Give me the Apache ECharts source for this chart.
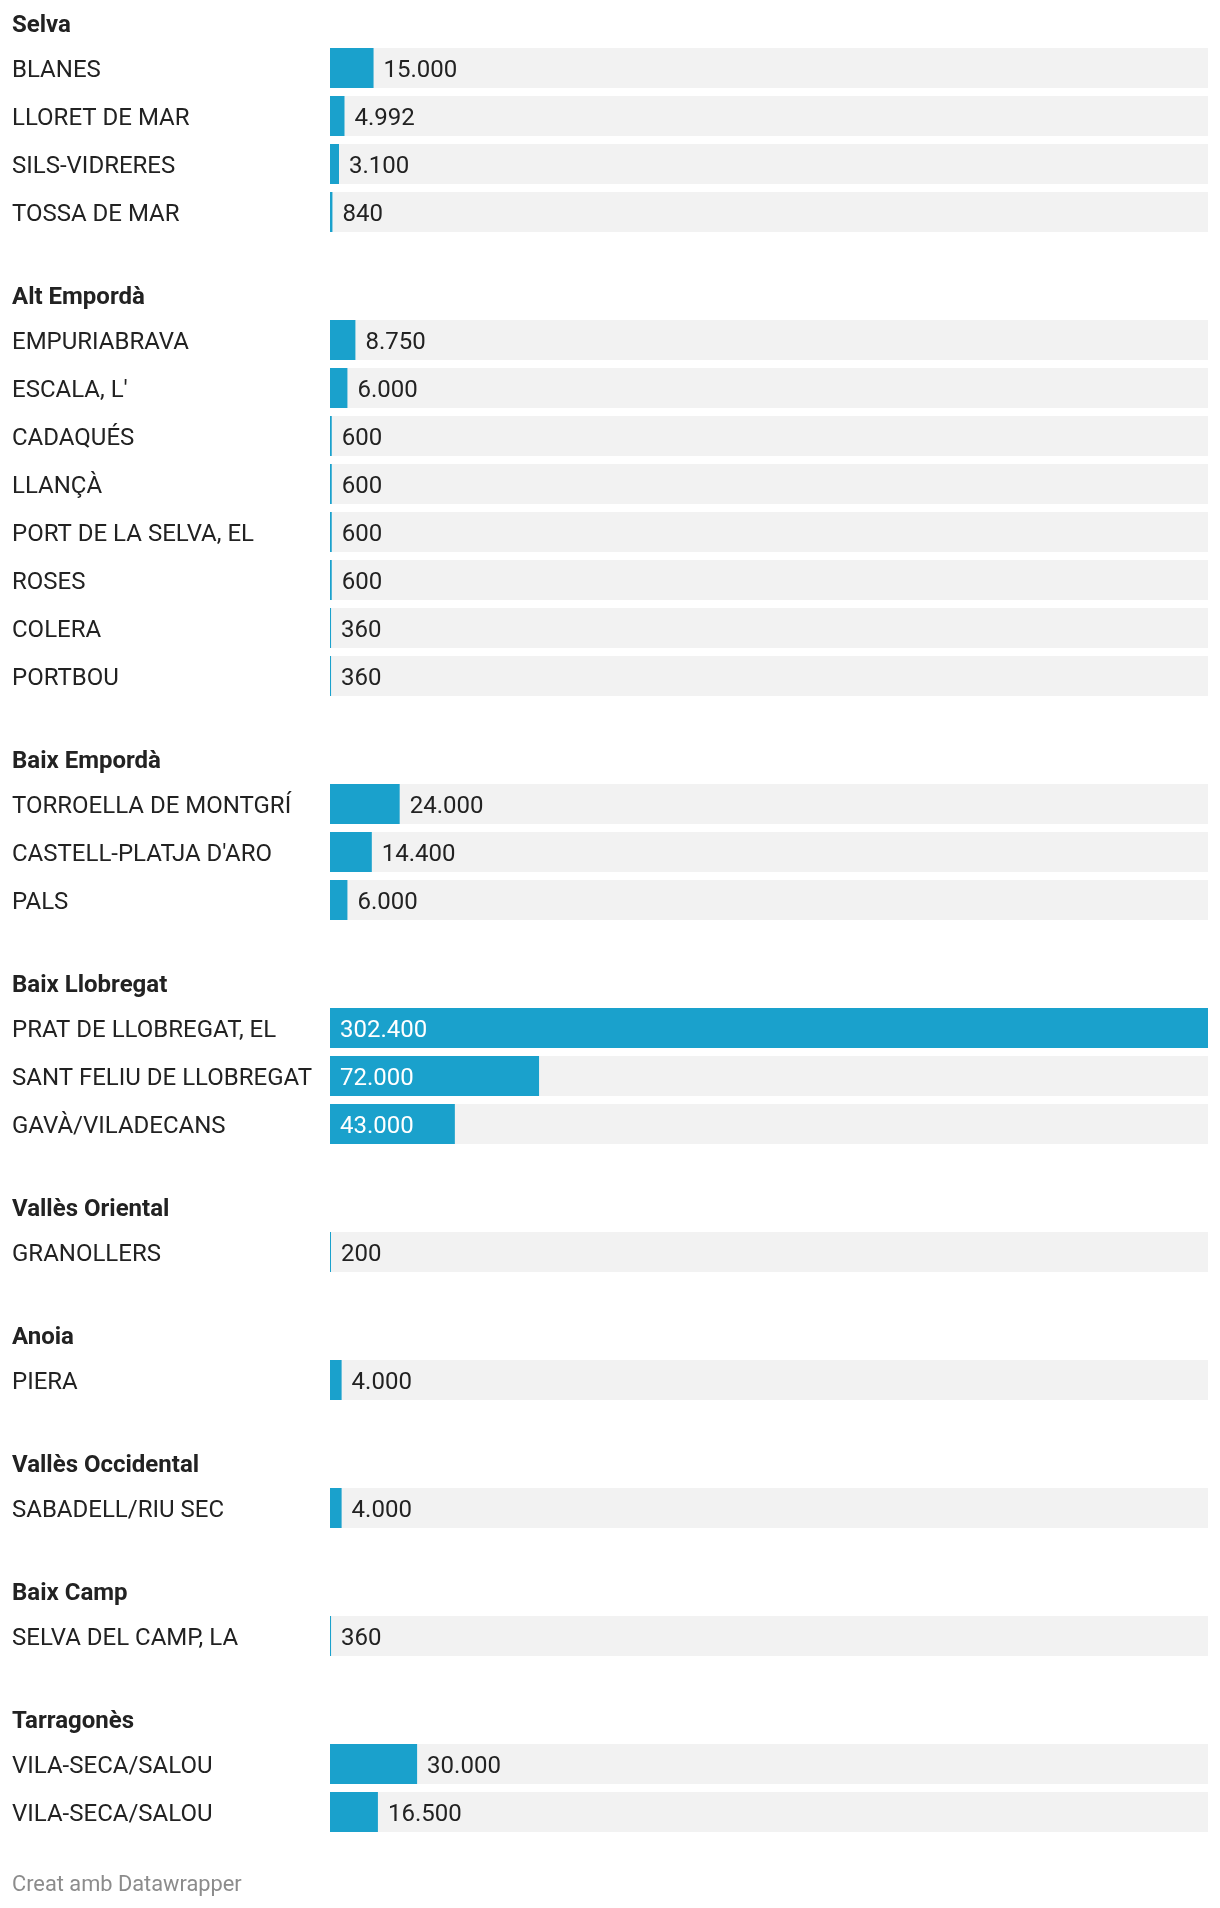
<!DOCTYPE html>
<html>
<head>
<meta charset="utf-8">
<script src="https://cdn.jsdelivr.net/npm/echarts@6/dist/echarts.min.js"></script>
<style>
html,body{margin:0;padding:0;background:#fff;}
#chart{width:1220px;height:1908px;}
</style>
</head>
<body>
<div id="chart"></div>
<script>
const groupNames = ['Selva', 'Alt Empordà', 'Baix Empordà', 'Baix Llobregat', 'Vallès Oriental', 'Anoia', 'Vallès Occidental', 'Baix Camp', 'Tarragonès'];
const groupCounts = [4, 8, 3, 3, 1, 1, 1, 1, 2];
const municipalities = [
  'BLANES', 'LLORET DE MAR', 'SILS-VIDRERES', 'TOSSA DE MAR',
  'EMPURIABRAVA', "ESCALA, L'", 'CADAQUÉS', 'LLANÇÀ', 'PORT DE LA SELVA, EL', 'ROSES', 'COLERA', 'PORTBOU',
  'TORROELLA DE MONTGRÍ', "CASTELL-PLATJA D'ARO", 'PALS',
  'PRAT DE LLOBREGAT, EL', 'SANT FELIU DE LLOBREGAT', 'GAVÀ/VILADECANS',
  'GRANOLLERS',
  'PIERA',
  'SABADELL/RIU SEC',
  'SELVA DEL CAMP, LA',
  'VILA-SECA/SALOU', 'VILA-SECA/SALOU'
];
const values = [
  15000, 4992, 3100, 840,
  8750, 6000, 600, 600, 600, 600, 360, 360,
  24000, 14400, 6000,
  302400, 72000, 43000,
  200,
  4000,
  4000,
  360,
  30000, 16500
];
const footerText = 'Creat amb Datawrapper';

const W = 1220;
const PLOT_LEFT = 330, PLOT_RIGHT = 12;
const ROW = 48, BAR = 40, GROUP_EXTRA = 80, HEAD_OFFSET = 44;
const FONT = 'Roboto, "Noto Sans", sans-serif';
const LABEL_SIZE = 24;
const TEXT_SHIFT = 3;
const maxVal = Math.max.apply(null, values);
const plotW = W - PLOT_LEFT - PLOT_RIGHT;
function fmt(v){ return String(v).replace(/\B(?=(\d{3})+(?!\d))/g, '.'); }

const grids = [], xAxes = [], yAxes = [], series = [], titles = [];
let firstCenter = 68, idx = 0;
groupNames.forEach((g, gi) => {
  const n = groupCounts[gi];
  const cats = municipalities.slice(idx, idx + n);
  const vals = values.slice(idx, idx + n);
  idx += n;
  titles.push({
    text: g, left: 12, top: firstCenter - HEAD_OFFSET - 14 + 2, padding: 0,
    textStyle: {fontFamily: FONT, fontSize: 24, fontWeight: 'bold', color: '#222', lineHeight: 28}
  });
  grids.push({left: PLOT_LEFT, right: PLOT_RIGHT, top: firstCenter - ROW / 2, height: n * ROW, containLabel: false});
  xAxes.push({type: 'value', gridIndex: gi, min: 0, max: maxVal, show: false});
  yAxes.push({
    type: 'category', gridIndex: gi, data: cats, inverse: true,
    axisLine: {show: false}, axisTick: {show: false}, splitLine: {show: false},
    axisLabel: {align: 'left', verticalAlign: 'top', lineHeight: TEXT_SHIFT * 2,
      margin: PLOT_LEFT - 12, fontFamily: FONT, fontSize: LABEL_SIZE, color: '#222'}
  });
  series.push({
    type: 'bar', xAxisIndex: gi, yAxisIndex: gi, barWidth: BAR,
    showBackground: true, backgroundStyle: {color: '#f2f2f2'},
    itemStyle: {color: '#1aa1cc'},
    barMinHeight: 1,
    label: {show: true, position: 'right', distance: 10, fontFamily: FONT, fontSize: LABEL_SIZE, color: '#222',
      lineHeight: 28, offset: [0, TEXT_SHIFT], formatter: p => fmt(p.value)},
    data: vals.map(v => {
      const inside = v / maxVal * plotW > 100;
      return inside ? {value: v, label: {position: 'insideLeft', distance: 10, color: '#fff'}} : {value: v};
    }),
    animation: false
  });
  firstCenter += n * ROW + GROUP_EXTRA;
});
titles.push({
  text: footerText, left: 12, top: 1884 - 13 + 2, padding: 0,
  textStyle: {fontFamily: FONT, fontSize: 21.8, fontWeight: 'normal', color: '#8c8c8c', lineHeight: 26}
});

const chart = echarts.init(document.getElementById('chart'), null, {renderer: 'canvas'});
chart.setOption({
  backgroundColor: '#fff',
  animation: false,
  title: titles, grid: grids, xAxis: xAxes, yAxis: yAxes, series: series
});
</script>
</body>
</html>
